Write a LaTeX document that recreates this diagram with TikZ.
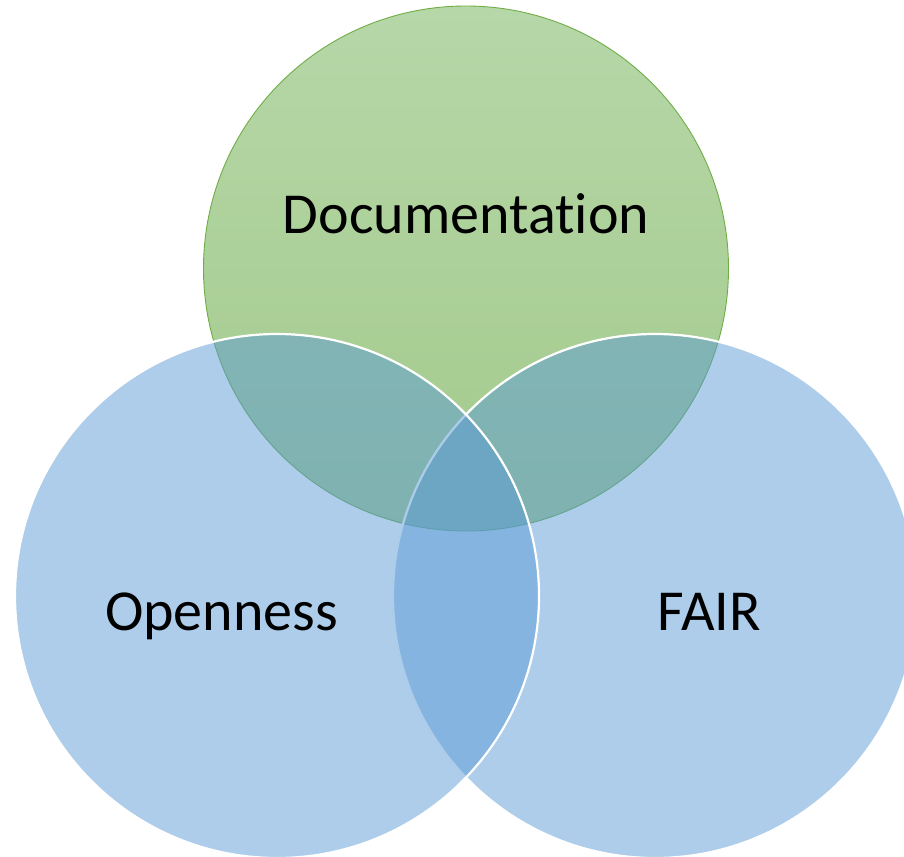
\documentclass[tikz,border=0pt]{standalone}
\usepackage{fontspec}
\setmainfont[Ligatures={NoCommon}]{Carlito}
\definecolor{blueacc}{HTML}{5B9BD5}
\definecolor{greentop}{HTML}{B6D7A8}
\definecolor{greenbot}{HTML}{A3CA8B}
\definecolor{greenline}{HTML}{70AD47}
\tikzset{
  setcircle/.style={circle, inner sep=0pt, outer sep=0pt, minimum size=#1},
  greenset/.style={setcircle=525pt, top color=greentop, bottom color=greenbot, draw=greenline, line width=0.9pt},
  blueset/.style={setcircle=524pt, fill=blueacc, fill opacity=0.5, draw=white, draw opacity=1, line width=2.2pt},
  label/.style={anchor=base, inner sep=0pt, font=\fontsize{58}{60}\selectfont, text=black}
}
\begin{document}
\begin{tikzpicture}[x=1pt,y=-1pt]
\useasboundingbox (0,0) rectangle (904,856);
\clip (0,0) rectangle (904,856);
\node[greenset] (doc) at (466,268.5) {};
\node[blueset] (fair) at (655,596) {};
\node[blueset] (open) at (277,596) {};
\node[label] (doclbl) at (466,233) {Documentation};
\node[label] (openlbl) at (221.5,630) {Openness};
\node[label] (fairlbl) at (709.5,630) {FAIR};
\end{tikzpicture}
\end{document}
